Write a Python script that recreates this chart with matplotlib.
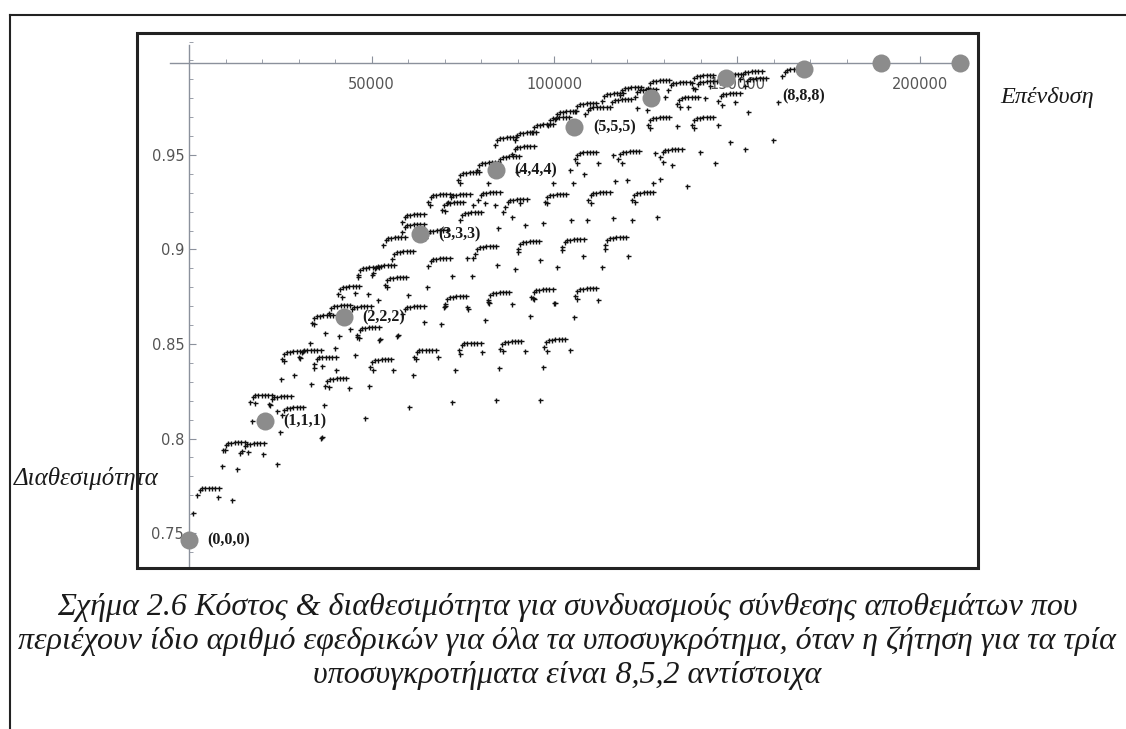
import matplotlib
matplotlib.use("Agg")
import matplotlib.pyplot as plt
from matplotlib.lines import Line2D
from matplotlib.patches import Rectangle
from matplotlib.ticker import MultipleLocator

# (n,n,n) combinations: same number of spares for all three subsystems
combo_cost = [0, 20800, 42400, 63200, 84000, 105400, 126400, 147000, 168300, 189400, 211000]
combo_avail = [0.7463, 0.8093, 0.8643, 0.9082, 0.9421, 0.9648, 0.9802, 0.9907, 0.9955, 0.9987, 0.9987]
combo_labels = ["(0,0,0)", "(1,1,1)", "(2,2,2)", "(3,3,3)", "(4,4,4)", "(5,5,5)",
                "", "", "(8,8,8)", "", ""]

# runs of combinations that only differ in the cheap third subsystem:
# (cost, availability) where the run levels off
hook_points = [
    (3600, 0.7738), (10700, 0.7977), (15900, 0.7971), (18100, 0.8230), (23300, 0.8220),
    (26800, 0.8162), (38600, 0.8315), (26800, 0.8458), (31500, 0.8468), (35600, 0.8431),
    (50900, 0.8416), (63000, 0.8468), (75300, 0.8505), (86500, 0.8511), (98500, 0.8521),
    (35000, 0.8648), (39700, 0.8701), (45200, 0.8696), (47400, 0.8585), (59700, 0.8696),
    (42100, 0.8802), (71400, 0.8749), (83200, 0.8770), (95000, 0.8786), (107000, 0.8791),
    (47600, 0.8902), (51700, 0.8913), (55000, 0.8849), (66800, 0.8950), (56900, 0.8987),
    (54500, 0.9061), (59700, 0.9130), (66000, 0.9098), (79600, 0.9013), (91400, 0.9040),
    (103500, 0.9050), (115200, 0.9061), (59700, 0.9183), (75500, 0.9193), (70600, 0.9246),
    (66800, 0.9288), (72300, 0.9288), (80500, 0.9299), (87900, 0.9262), (98800, 0.9288),
    (110600, 0.9299), (122600, 0.9299), (75000, 0.9405), (80200, 0.9458), (85900, 0.9489),
    (89800, 0.9542), (85100, 0.9590), (107000, 0.9511), (118800, 0.9516), (130300, 0.9526),
    (95200, 0.9659), (99600, 0.9696), (127000, 0.9696), (139000, 0.9696), (107000, 0.9770),
    (114400, 0.9823), (119300, 0.9854), (134900, 0.9802), (146200, 0.9823), (127000, 0.9891),
    (132500, 0.9881), (139000, 0.9918), (153500, 0.9902), (152200, 0.9939), (163700, 0.9950),
    (90600, 0.9616), (101500, 0.9727), (109800, 0.9749), (116600, 0.9791), (123400, 0.9844),
    (139900, 0.9886), (146700, 0.9923),
]
# shape of one run relative to where it levels off
hook_dx = [-1400, -700, 0, 900, 1800, 2700, 3600, 4500]
hook_dy = [-0.0035, -0.0012, 0, 0.0002, 0.0003, 0.0003, 0.0003, 0.0003]

# remaining combinations
single_points = [
    (1100, 0.7606), (7900, 0.7691), (11800, 0.7675), (9900, 0.7939), (9000, 0.7855),
    (13100, 0.7839), (14000, 0.7924), (16100, 0.7929), (20300, 0.7918), (24100, 0.7865),
    (24900, 0.8035), (36400, 0.8008), (17200, 0.8093), (18100, 0.8188), (22200, 0.8178),
    (24100, 0.8146), (36900, 0.8178), (36100, 0.8003), (48200, 0.8109), (60200, 0.8167),
    (72000, 0.8193), (84000, 0.8204), (96100, 0.8204), (25200, 0.8315), (28700, 0.8336),
    (33400, 0.8289), (38300, 0.8273), (43800, 0.8267), (49300, 0.8278), (34200, 0.8373),
    (36400, 0.8384), (40200, 0.8363), (50400, 0.8363), (55800, 0.8363), (61300, 0.8336),
    (72800, 0.8363), (84800, 0.8373), (96900, 0.8379), (26000, 0.8410), (30400, 0.8426),
    (33100, 0.8505), (40000, 0.8479), (45400, 0.8442), (62100, 0.8421), (68200, 0.8431),
    (74200, 0.8447), (80200, 0.8458), (85900, 0.8463), (92000, 0.8463), (98000, 0.8463),
    (104300, 0.8468), (34200, 0.8606), (37200, 0.8558), (41100, 0.8542), (44100, 0.8580),
    (46500, 0.8532), (52000, 0.8521), (56900, 0.8542), (64300, 0.8617), (69000, 0.8606),
    (69800, 0.8696), (76400, 0.8685), (81000, 0.8627), (82100, 0.8717), (88400, 0.8712),
    (93300, 0.8648), (94400, 0.8738), (99900, 0.8717), (105400, 0.8643), (106200, 0.8738),
    (111900, 0.8733), (41900, 0.8749), (45400, 0.8770), (49000, 0.8765), (54200, 0.8802),
    (70100, 0.8701), (76100, 0.8696), (81800, 0.8722), (94200, 0.8744), (100200, 0.8717),
    (65100, 0.8802), (72000, 0.8860), (77500, 0.8860), (46300, 0.8855), (50100, 0.8865),
    (84300, 0.8918), (89200, 0.8897), (100700, 0.8908), (113000, 0.8908), (59900, 0.8759),
    (51700, 0.8733), (57200, 0.8548), (52300, 0.8527), (46000, 0.8537), (90000, 0.8987),
    (96100, 0.8944), (102100, 0.8997), (107800, 0.8966), (113900, 0.9003), (120200, 0.8966),
    (76100, 0.8955), (77700, 0.8955), (84600, 0.9114), (92000, 0.9130), (96900, 0.9140),
    (66000, 0.9235), (70100, 0.9204), (77700, 0.9235), (81000, 0.9246), (83800, 0.9235),
    (85900, 0.9198), (90600, 0.9246), (98000, 0.9246), (88400, 0.9172), (104600, 0.9156),
    (108900, 0.9156), (110000, 0.9246), (116000, 0.9167), (121200, 0.9156), (122100, 0.9251),
    (128100, 0.9172), (74200, 0.9352), (81800, 0.9352), (99600, 0.9352), (105100, 0.9352),
    (108100, 0.9399), (116600, 0.9362), (128900, 0.9373), (136300, 0.9336), (89800, 0.9410),
    (104300, 0.9421), (119900, 0.9368), (127000, 0.9352), (106200, 0.9458), (111900, 0.9458),
    (116000, 0.9500), (118500, 0.9458), (127500, 0.9511), (129700, 0.9463), (132200, 0.9447),
    (139900, 0.9516), (144000, 0.9458), (126200, 0.9643), (133600, 0.9653), (138200, 0.9643),
    (144800, 0.9659), (148100, 0.9569), (152200, 0.9532), (159800, 0.9579), (122600, 0.9749),
    (125400, 0.9738), (130300, 0.9807), (134400, 0.9754), (136600, 0.9754), (141200, 0.9802),
    (145900, 0.9765), (149400, 0.9780), (153000, 0.9727), (161200, 0.9780), (137900, 0.9854),
    (142600, 0.9865),
]

x_ticks = [50000, 100000, 150000, 200000]
y_ticks = [0.75, 0.8, 0.85, 0.9, 0.95]
y_tick_labels = ["0.75", "0.8", "0.85", "0.9", "0.95"]

caption = [
    "Σχήμα 2.6 Κόστος & διαθεσιμότητα για συνδυασμούς σύνθεσης αποθεμάτων που",
    "περιέχουν ίδιο αριθμό εφεδρικών για όλα τα υποσυγκρότημα, όταν η ζήτηση για τα τρία",
    "υποσυγκροτήματα είναι 8,5,2 αντίστοιχα",
]

W, H = 1126, 729
fig = plt.figure(figsize=(W / 100, H / 100), dpi=100)
fig.patch.set_facecolor("white")

ax = fig.add_axes([160 / W, 1 - 566 / H, 815 / W, 526 / H])
ax.set_xlim(-7937, 215128)
ax.set_ylim(0.7326, 1.0108)
ax.patch.set_alpha(0)

axis_col = "#8b919c"
for s in ["top", "right"]:
    ax.spines[s].set_visible(False)
ax.spines["left"].set_position(("data", 0))
ax.spines["bottom"].set_position(("data", 0.9987))
ax.spines["left"].set_bounds(0.7326, 1.0081)
ax.spines["bottom"].set_bounds(-5200, 213200)
for s in ["left", "bottom"]:
    ax.spines[s].set_color(axis_col)
    ax.spines[s].set_linewidth(1.0)

ax.set_xticks(x_ticks)
ax.set_xticklabels([str(t) for t in x_ticks])
ax.set_yticks(y_ticks)
ax.set_yticklabels(y_tick_labels)
ax.xaxis.set_minor_locator(MultipleLocator(10000))
ax.yaxis.set_minor_locator(MultipleLocator(0.01))
ax.tick_params(which="major", direction="in", length=5, width=0.8, color=axis_col,
               labelcolor="#555555", labelsize=10.5)
ax.tick_params(which="minor", direction="in", length=3, width=0.6, color=axis_col)
ax.tick_params(axis="x", pad=10)
ax.tick_params(axis="y", pad=3.5)

# small markers: every run plus the loose combinations
hx, hy = [], []
for c, a in hook_points:
    for dx, dy in zip(hook_dx, hook_dy):
        hx.append(c + dx)
        hy.append(a + dy)
sx = [p[0] for p in single_points]
sy = [p[1] for p in single_points]
ax.plot(hx, hy, "+", color="#111111", ms=3.6, mew=1.0, ls="none", zorder=3)
ax.plot(sx, sy, "+", color="#111111", ms=3.6, mew=1.0, ls="none", zorder=3)

# big grey dots for the (n,n,n) combinations
ax.plot(combo_cost, combo_avail, "o", ms=13, color="#8c8c8c", mec="none",
        ls="none", zorder=4, clip_on=False)
label_font = dict(family="Liberation Serif", weight="bold", size=11.5, color="#1a1a1a")
for c, a, lab in zip(combo_cost, combo_avail, combo_labels):
    if not lab:
        continue
    if lab == "(8,8,8)":
        ax.annotate(lab, (c, a), xytext=(0, -20), textcoords="offset points",
                    ha="center", va="center", zorder=5, **label_font)
    else:
        ax.annotate(lab, (c, a), xytext=(13.5, 0), textcoords="offset points",
                    ha="left", va="center", zorder=5, **label_font)

# axis names
fig.text(1000 / W, 1 - 97 / H, "Επένδυση", family="Liberation Serif",
         style="italic", size=17.5, ha="left", va="center", color="#1a1a1a")
fig.text(14 / W, 1 - 478 / H, "Διαθεσιμότητα", family="Liberation Serif",
         style="italic", size=18, ha="left", va="center", color="#1a1a1a")

# figure frame and page box
fig.add_artist(Rectangle((137 / W, 1 - 568 / H), (978 - 137) / W, (568 - 33) / H,
                         transform=fig.transFigure, fill=False, lw=2.2, ec="#222222"))
fig.add_artist(Line2D([10 / W, 1], [1 - 15 / H, 1 - 15 / H], transform=fig.transFigure,
                      color="#222222", lw=1.5))
fig.add_artist(Line2D([10 / W, 10 / W], [0, 1 - 15 / H], transform=fig.transFigure,
                      color="#222222", lw=1.5))

for i, line in enumerate(caption):
    fig.text(567 / W, 1 - (607 + 34 * i) / H, line, family="Liberation Serif",
             style="italic", size=23, ha="center", va="center", color="#1a1a1a")

fig.savefig("out.png", dpi=100)
